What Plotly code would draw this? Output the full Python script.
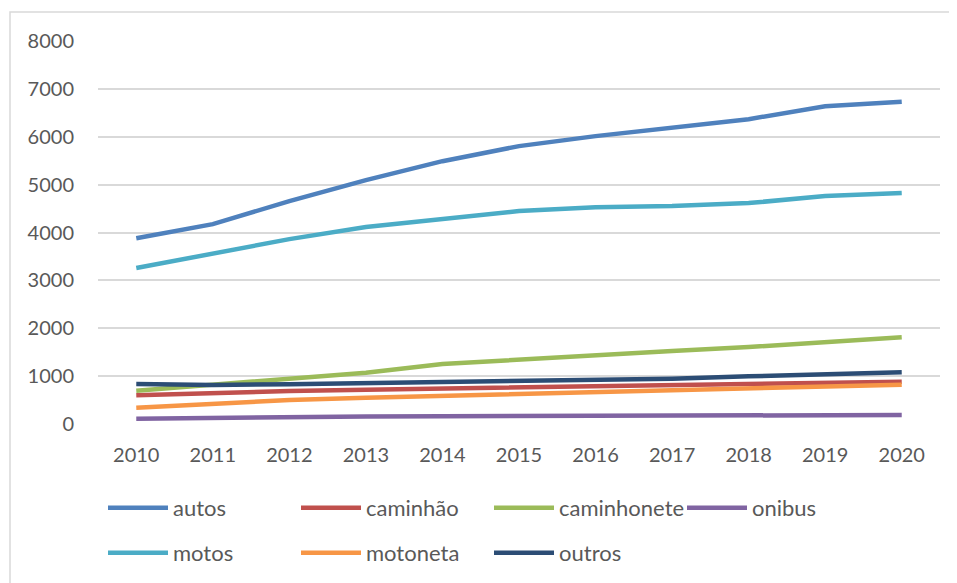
import plotly.graph_objects as go

years = [str(y) for y in range(2010, 2021)]
autos = [3880, 4175, 4655, 5094, 5490, 5804, 6013, 6200, 6367, 6639, 6730]
caminhao = [599, 653, 690, 715, 740, 758, 780, 810, 840, 870, 885]
caminhonete = [695, 814, 940, 1071, 1252, 1350, 1440, 1524, 1607, 1712, 1810]
onibus = [111, 130, 145, 155, 162, 170, 175, 180, 185, 187, 188]
motos = [3257, 3570, 3862, 4113, 4280, 4447, 4530, 4551, 4614, 4760, 4823]
motoneta = [341, 430, 500, 550, 590, 630, 680, 715, 750, 800, 821]
outros = [835, 814, 830, 850, 865, 891, 918, 946, 995, 1043, 1079]

series = [
    ("autos", autos, "#4F81BD", "legend"),
    ("caminhão", caminhao, "#C0504D", "legend"),
    ("caminhonete", caminhonete, "#9BBB59", "legend"),
    ("onibus", onibus, "#8064A2", "legend"),
    ("motos", motos, "#4BACC6", "legend2"),
    ("motoneta", motoneta, "#F79646", "legend2"),
    ("outros", outros, "#2C4D75", "legend2"),
]

fig = go.Figure()
for name, vals, color, lg in series:
    fig.add_trace(go.Scatter(x=years, y=vals, name=name, mode="lines",
                             line=dict(color=color, width=4.5), legend=lg))

font_fam = "Lato, Carlito, sans-serif"
txt = "#595959"
OFF = 8  # page body margin
W, H = 949, 575
ml, mr, mt, mb = 98 - OFF, W + OFF - 940, 41 - OFF, H + OFF - 424
pw, ph = W - ml - mr, H - mt - mb

def px(x):
    return (x - OFF - ml) / pw

def py(y):
    return (H + OFF - mb - y) / ph

legend_common = dict(orientation="h", xanchor="left", yanchor="middle",
                     entrywidth=118, entrywidthmode="pixels",
                     font=dict(family=font_fam, size=22, color=txt),
                     bgcolor="rgba(0,0,0,0)", itemwidth=60, traceorder="normal")

fig.update_layout(
    width=W, height=H,
    margin=dict(l=ml, r=mr, t=mt, b=mb, autoexpand=False),
    plot_bgcolor="white", paper_bgcolor="white",
    font=dict(family=font_fam, size=20, color=txt),
    xaxis=dict(type="category", range=[-0.5, 10.5], showgrid=False, showline=False,
               ticks="", zeroline=False, ticklabelstandoff=17,
               tickfont=dict(family=font_fam, size=20, color=txt)),
    yaxis=dict(range=[0, 8000], dtick=1000, showgrid=True, gridcolor="#D9D9D9",
               gridwidth=1.5, zeroline=False, showline=False, ticks="",
               ticklabelstandoff=23,
               tickfont=dict(family=font_fam, size=20, color=txt)),
    legend=dict(x=px(103), y=py(508), **legend_common),
    legend2=dict(x=px(103), y=py(553), **legend_common),
    showlegend=True,
    shapes=[dict(type="rect", xref="paper", yref="paper",
                 x0=px(10), x1=px(1000), y0=py(700), y1=py(12),
                 line=dict(color="#D9D9D9", width=1.5), layer="below")],
)

fig.write_html("out.html")
